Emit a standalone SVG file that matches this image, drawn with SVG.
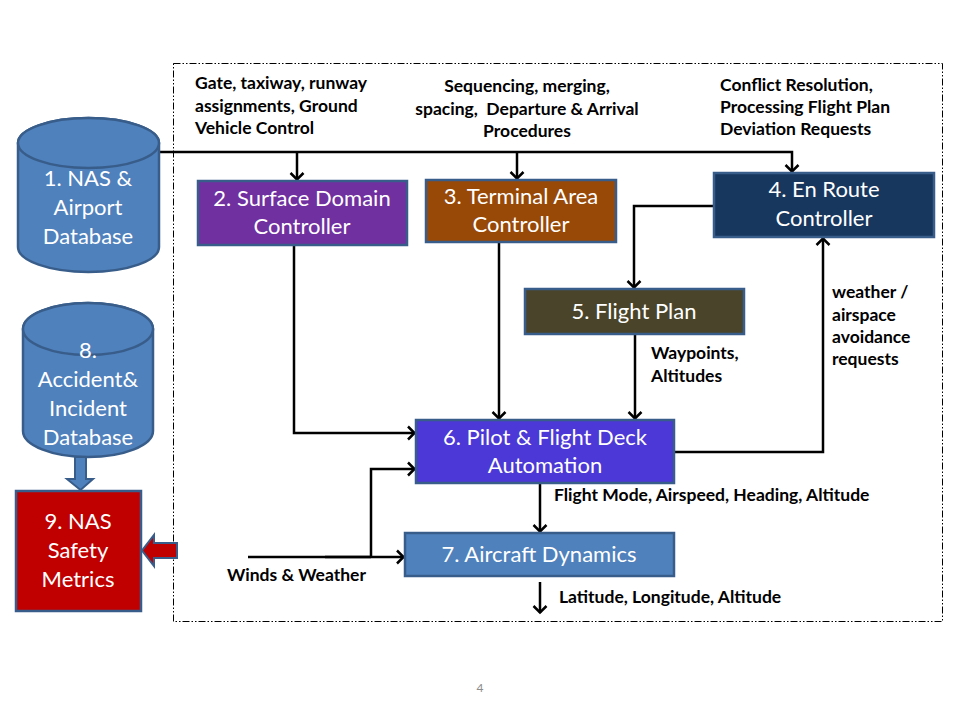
<svg xmlns="http://www.w3.org/2000/svg" width="960" height="720" viewBox="0 0 960 720">
<style>
.box{stroke:#385D8A;stroke-width:2.5}
.bt{font-family:Lato,"Liberation Sans",sans-serif;font-size:22px;fill:#fff;text-anchor:middle}
.lb{font-family:Lato,"Liberation Sans",sans-serif;font-size:17.5px;font-weight:bold;fill:#000}
.c{fill:none;stroke:#000;stroke-width:2.5}
</style>
<defs>
<marker id="a" markerUnits="userSpaceOnUse" markerWidth="16" markerHeight="16" viewBox="0 0 16 16" refX="13" refY="8" orient="auto">
<path d="M6,1.5 L12.5,8 L6,14.5" fill="none" stroke="#000" stroke-width="2.5"/>
</marker>
</defs>
<rect width="960" height="720" fill="#fff"/>
<rect id="boundary" x="173.5" y="63.5" width="769" height="558" fill="none" stroke="#000" stroke-width="1" stroke-dasharray="7,2,1.5,2,1.5,2"/>

<g id="connectors">
<path class="c" d="M159,152 H792 V172" marker-end="url(#a)"/>
<path class="c" d="M297,152 V180" marker-end="url(#a)"/>
<path class="c" d="M517,152 V179" marker-end="url(#a)"/>
<path class="c" d="M294,245 V433 H415" marker-end="url(#a)"/>
<path class="c" d="M499,243 V419" marker-end="url(#a)"/>
<path class="c" d="M713,206 H634 V288" marker-end="url(#a)"/>
<path class="c" d="M635,334 V419" marker-end="url(#a)"/>
<path class="c" d="M674,452 H823 V238" marker-end="url(#a)"/>
<path class="c" d="M540,484 V532" marker-end="url(#a)"/>
<path class="c" d="M248,557 H404" marker-end="url(#a)"/>
<path class="c" d="M325,557 H371" stroke-width="3.5"/>
<path class="c" d="M371,557 V469 H415" marker-end="url(#a)"/>
<path class="c" d="M540,582 V613" marker-end="url(#a)"/>
</g>

<g id="n1">
<path class="box" fill="#4F81BD" d="M18,143 A70.5,25 0 0 1 159,143 V247 A70.5,25 0 0 1 18,247 Z"/>
<ellipse class="box" fill="#4F81BD" cx="88.5" cy="143" rx="70.5" ry="25"/>
<text class="bt" x="88" y="186">1. NAS &amp;</text>
<text class="bt" x="88" y="215">Airport</text>
<text class="bt" x="88" y="244">Database</text>
</g>

<g id="n2">
<rect class="box" fill="#7030A0" x="198" y="181" width="209" height="64"/>
<text class="bt" x="302" y="206">2. Surface Domain</text>
<text class="bt" x="302" y="234">Controller</text>
</g>

<g id="n3">
<rect class="box" fill="#984807" x="426" y="180" width="190" height="62"/>
<text class="bt" x="521" y="204">3. Terminal Area</text>
<text class="bt" x="521" y="232">Controller</text>
</g>

<g id="n4">
<rect class="box" fill="#17375E" x="714" y="173" width="220" height="64"/>
<text class="bt" x="824" y="197">4. En Route</text>
<text class="bt" x="824" y="226">Controller</text>
</g>

<g id="n5">
<rect class="box" fill="#4A452A" x="525" y="289" width="219" height="45"/>
<text class="bt" x="634" y="319">5. Flight Plan</text>
</g>

<g id="n6">
<rect class="box" fill="#4B38D6" x="416" y="420" width="258" height="63"/>
<text class="bt" x="545" y="445">6. Pilot &amp; Flight Deck</text>
<text class="bt" x="545" y="473">Automation</text>
</g>

<g id="n7">
<rect class="box" fill="#4F81BD" x="405" y="533" width="269" height="43"/>
<text class="bt" x="539" y="562">7. Aircraft Dynamics</text>
</g>

<g id="n8">
<path class="box" fill="#4F81BD" d="M23,329 A65,26 0 0 1 153,329 V431 A65,26 0 0 1 23,431 Z"/>
<ellipse class="box" fill="#4F81BD" cx="88" cy="329" rx="65" ry="26"/>
<text class="bt" x="88" y="358">8.</text>
<text class="bt" x="88" y="387">Accident&amp;</text>
<text class="bt" x="88" y="416">Incident</text>
<text class="bt" x="88" y="445">Database</text>
</g>

<g id="n8to9">
<path fill="#4F81BD" stroke="#385D8A" stroke-width="2" d="M75,457 H86 V479 H93 L80.5,490 L67,479 H75 Z"/>
</g>

<g id="n9">
<rect class="box" fill="#C00000" x="16" y="491" width="125" height="120"/>
<text class="bt" x="78" y="529">9. NAS</text>
<text class="bt" x="78" y="558">Safety</text>
<text class="bt" x="78" y="587">Metrics</text>
</g>

<g id="toMetrics">
<path fill="#C00000" stroke="#385D8A" stroke-width="2" d="M177,543 H154 V535 L142,550.5 L154,566 V558 H177 Z"/>
</g>

<g id="labels">
<text class="lb" x="195" y="89">Gate, taxiway, runway</text>
<text class="lb" x="195" y="112">assignments, Ground</text>
<text class="lb" x="195" y="134">Vehicle Control</text>
<text class="lb" x="527" y="92" text-anchor="middle">Sequencing, merging,</text>
<text class="lb" x="527" y="115" text-anchor="middle" xml:space="preserve">spacing,  Departure &amp; Arrival</text>
<text class="lb" x="527" y="137" text-anchor="middle">Procedures</text>
<text class="lb" x="720" y="91">Conflict Resolution,</text>
<text class="lb" x="720" y="113">Processing Flight Plan</text>
<text class="lb" x="720" y="135">Deviation Requests</text>
<text class="lb" x="832" y="298">weather /</text>
<text class="lb" x="832" y="321">airspace</text>
<text class="lb" x="832" y="343">avoidance</text>
<text class="lb" x="832" y="365">requests</text>
<text class="lb" x="651" y="359">Waypoints,</text>
<text class="lb" x="651" y="382">Altitudes</text>
<text class="lb" x="554" y="501">Flight Mode, Airspeed, Heading, Altitude</text>
<text class="lb" x="227" y="581">Winds &amp; Weather</text>
<text class="lb" x="559" y="603">Latitude, Longitude, Altitude</text>
</g>
<text x="480" y="692" text-anchor="middle" font-family="Lato,'Liberation Sans',sans-serif" font-size="12" fill="#8C8C8C">4</text>
</svg>
